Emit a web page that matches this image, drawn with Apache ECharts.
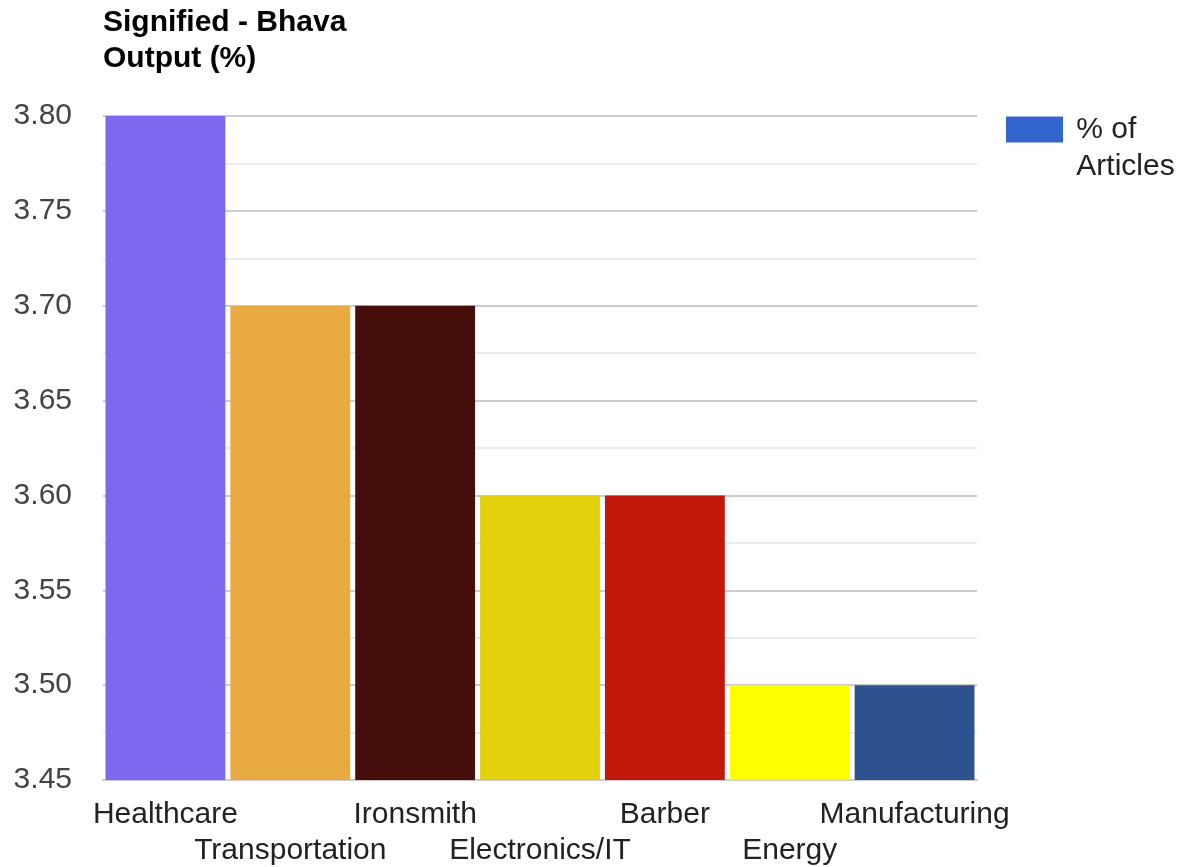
<!DOCTYPE html>
<html>
<head>
<meta charset="utf-8">
<title>Signified - Bhava Output (%)</title>
<script src="https://cdn.jsdelivr.net/npm/echarts@6/dist/echarts.min.js"></script>
<style>
  html, body { margin: 0; padding: 0; background: #fff; }
  #chart { width: 1178px; height: 867px; }
</style>
</head>
<body>
<div id="chart"></div>
<script>
// categories and values
var categories = ['Healthcare', 'Transportation', 'Ironsmith', 'Electronics/IT', 'Barber', 'Energy', 'Manufacturing'];
var values = [3.8, 3.7, 3.7, 3.6, 3.6, 3.5, 3.5];
var barColors = ['#7b68ee', '#e8aa41', '#450e0b', '#e2d00c', '#c0180a', '#ffff00', '#2e5290'];

var chartDom = document.getElementById('chart');
var myChart = echarts.init(chartDom);

var font = 'Arial, "Liberation Sans", sans-serif';

var option = {
  animation: false,
  title: {
    text: 'Signified - Bhava\nOutput (%)',
    left: 98,
    top: 0,
    textStyle: {
      fontFamily: font,
      fontSize: 30,
      fontWeight: 'bold',
      color: '#000',
      lineHeight: 36
    }
  },
  legend: {
    left: 1001,
    top: 69,
    itemWidth: 57,
    itemHeight: 26,
    icon: 'rect',
    // empty first line keeps "% of" level with the swatch
    formatter: function () { return '\n % of\n Articles'; },
    textStyle: {
      fontFamily: font,
      fontSize: 30,
      color: '#222',
      lineHeight: 37
    }
  },
  grid: {
    left: 103,
    right: 201,
    top: 116,
    bottom: 87,
    outerBoundsMode: 'none'
  },
  xAxis: {
    type: 'category',
    data: categories,
    axisTick: { show: false },
    axisLine: { show: true, lineStyle: { color: '#cccccc', width: 2 } },
    axisLabel: {
      interval: 0,
      margin: 17,
      fontFamily: font,
      fontSize: 30,
      color: '#222',
      lineHeight: 36,
      formatter: function (val, idx) {
        return idx % 2 === 1 ? '\n' + val : val;
      }
    }
  },
  yAxis: {
    type: 'value',
    min: 3.45,
    max: 3.8,
    interval: 0.05,
    axisLine: { show: false },
    axisTick: { show: false },
    axisLabel: {
      margin: 31,
      fontFamily: font,
      fontSize: 30,
      color: '#444',
      formatter: function (v) { return v.toFixed(2); }
    },
    splitLine: { lineStyle: { color: '#cccccc', width: 2 } },
    minorTick: { show: false, splitNumber: 2 },
    minorSplitLine: { show: true, lineStyle: { color: '#ebebeb', width: 2 } }
  },
  series: [{
    name: '% of Articles',
    type: 'bar',
    barCategoryGap: '4%',
    itemStyle: { color: '#3366cc' },
    data: values.map(function (v, i) {
      return { value: v, itemStyle: { color: barColors[i] } };
    })
  }]
};

myChart.setOption(option);
</script>
</body>
</html>
